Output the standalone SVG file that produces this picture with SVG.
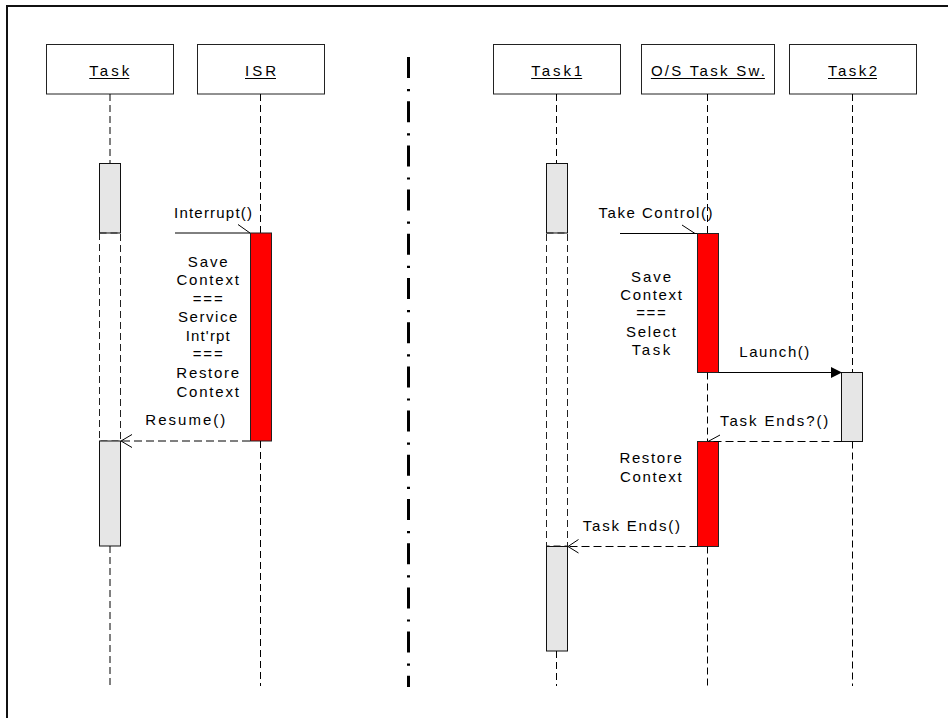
<svg xmlns="http://www.w3.org/2000/svg" width="948" height="718" viewBox="0 0 948 718">
<style>
text{font-family:"Liberation Sans",Arial,sans-serif;font-size:15px;fill:#000}
.t{text-anchor:middle}
.ul{stroke:#000;stroke-width:1}
.m{text-anchor:middle}
.box{fill:#fff;stroke:#222;stroke-width:1}
.life{stroke:#000;stroke-width:1;stroke-dasharray:7 4;fill:none}
.act{fill:#e6e6e6;stroke:#111;stroke-width:1}
.red{fill:#ff0000;stroke:#222;stroke-width:1}
.susp{fill:none;stroke:#222;stroke-width:1;stroke-dasharray:7 4}
.msg{stroke:#000;stroke-width:1;fill:none}
.ret{stroke:#000;stroke-width:1;fill:none;stroke-dasharray:8 4}
.arm{stroke:#000;stroke-width:1;fill:none}
</style>
<rect width="948" height="718" fill="#fff"/>
<rect id="frame" x="7" y="6" width="1000" height="1000" fill="none" stroke="#111" stroke-width="2"/>
<line id="divider" x1="408.5" y1="57" x2="408.5" y2="687" stroke="#000" stroke-width="3" stroke-dasharray="21 11 2.2 10"/>

<g id="task">
<rect class="box" x="46.5" y="44.5" width="127" height="49.5"/>
<text class="t" x="109.3" y="76" textLength="40">Task</text>
<line class="ul" x1="89.3" y1="78.5" x2="129.3" y2="78.5"/>
<line class="life" x1="110" y1="94" x2="110" y2="163"/>
<rect class="act" x="99.5" y="163.5" width="21" height="69.5"/>
<rect class="susp" x="99.5" y="233" width="21" height="208"/>
<rect class="act" x="99.5" y="441" width="21" height="105"/>
<line class="life" x1="110" y1="546" x2="110" y2="686"/>
</g>

<g id="isr">
<rect class="box" x="197.5" y="44.5" width="127" height="49.5"/>
<text class="t" x="260.5" y="76" textLength="31">ISR</text>
<line class="ul" x1="245" y1="78.5" x2="276" y2="78.5"/>
<line class="life" x1="260.5" y1="94" x2="260.5" y2="233"/>
<rect class="red" x="250.5" y="233" width="21" height="208"/>
<line class="life" x1="260.5" y1="441" x2="260.5" y2="686"/>
</g>

<g id="task1">
<rect class="box" x="493.5" y="44.5" width="127" height="49.5"/>
<text class="t" x="556.7" y="76" textLength="51">Task1</text>
<line class="ul" x1="531.2" y1="78.5" x2="582.2" y2="78.5"/>
<line class="life" x1="556.5" y1="94" x2="556.5" y2="163"/>
<rect class="act" x="546.5" y="163.5" width="21" height="69.5"/>
<rect class="susp" x="546.5" y="233" width="21" height="313"/>
<rect class="act" x="546.5" y="546.5" width="21" height="104.5"/>
<line class="life" x1="556.5" y1="651" x2="556.5" y2="686"/>
</g>

<g id="os">
<rect class="box" x="641.5" y="44.5" width="133" height="49.5"/>
<text class="t" x="707.9" y="76" textLength="114">O/S Task Sw.</text>
<line class="ul" x1="650.9" y1="78.5" x2="764.9" y2="78.5"/>
<line class="life" x1="707.5" y1="94" x2="707.5" y2="233"/>
<rect class="red" x="697.5" y="233.5" width="21" height="139"/>
<line class="life" x1="707.5" y1="372.5" x2="707.5" y2="441.5"/>
<rect class="red" x="697.5" y="441.5" width="21" height="105"/>
<line class="life" x1="707.5" y1="546.5" x2="707.5" y2="686"/>
</g>

<g id="task2">
<rect class="box" x="789.5" y="44.5" width="127" height="49.5"/>
<text class="t" x="852.5" y="76" textLength="49">Task2</text>
<line class="ul" x1="828" y1="78.5" x2="877" y2="78.5"/>
<line class="life" x1="852.5" y1="94" x2="852.5" y2="372"/>
<rect class="act" x="841.5" y="372.5" width="21" height="69"/>
<line class="life" x1="852.5" y1="441.5" x2="852.5" y2="686"/>
</g>

<g id="notes">
<text class="m" x="207.7" y="266.7" textLength="40">Save</text>
<text class="m" x="207.7" y="285.2" textLength="62.6">Context</text>
<text class="m" x="207.7" y="303.8" textLength="30">===</text>
<text class="m" x="207.7" y="322.3" textLength="59.4">Service</text>
<text class="m" x="207.7" y="340.9" textLength="44">Int'rpt</text>
<text class="m" x="207.7" y="359.4" textLength="30">===</text>
<text class="m" x="207.7" y="378" textLength="62.7">Restore</text>
<text class="m" x="207.7" y="396.5" textLength="62.6">Context</text>
<text class="m" x="651" y="281.5" textLength="40">Save</text>
<text class="m" x="651" y="299.9" textLength="61.7">Context</text>
<text class="m" x="651" y="318.3" textLength="29.3">===</text>
<text class="m" x="651" y="336.7" textLength="50">Select</text>
<text class="m" x="651" y="355.1" textLength="38.3">Task</text>
<text class="m" x="650.6" y="463.3" textLength="62.4">Restore</text>
<text class="m" x="650.8" y="481.7" textLength="61.7">Context</text>
</g>

<g id="connectors">
<line class="msg" x1="175" y1="233" x2="250" y2="233"/>
<line class="arm" x1="238" y1="224.5" x2="250" y2="233"/>
<text x="174" y="218" textLength="78">Interrupt()</text>

<line class="ret" x1="250" y1="441" x2="121" y2="441"/>
<polyline class="arm" points="132,434.5 121,441 132,447.5"/>
<text x="145.3" y="425" textLength="80">Resume()</text>

<line class="msg" x1="620" y1="233.5" x2="697" y2="233.5"/>
<line class="arm" x1="682" y1="225" x2="695" y2="233.5"/>
<text x="598.5" y="218" textLength="114">Take Control()</text>

<line class="msg" x1="718.5" y1="372.5" x2="832" y2="372.5"/>
<polygon points="842,372.5 831,367 831,378" fill="#000"/>
<text x="739.3" y="357" textLength="70">Launch()</text>

<line class="ret" x1="841.5" y1="441.5" x2="708" y2="441.5"/>
<line class="arm" x1="720" y1="435" x2="708" y2="441.5"/>
<text x="720" y="426" textLength="108.3">Task Ends?()</text>

<line class="ret" x1="697.5" y1="546.5" x2="568" y2="546.5"/>
<polyline class="arm" points="578.5,539.5 568,546.5 578.5,553"/>
<text x="582.7" y="530.7" textLength="97.3">Task Ends()</text>
</g>
</svg>
